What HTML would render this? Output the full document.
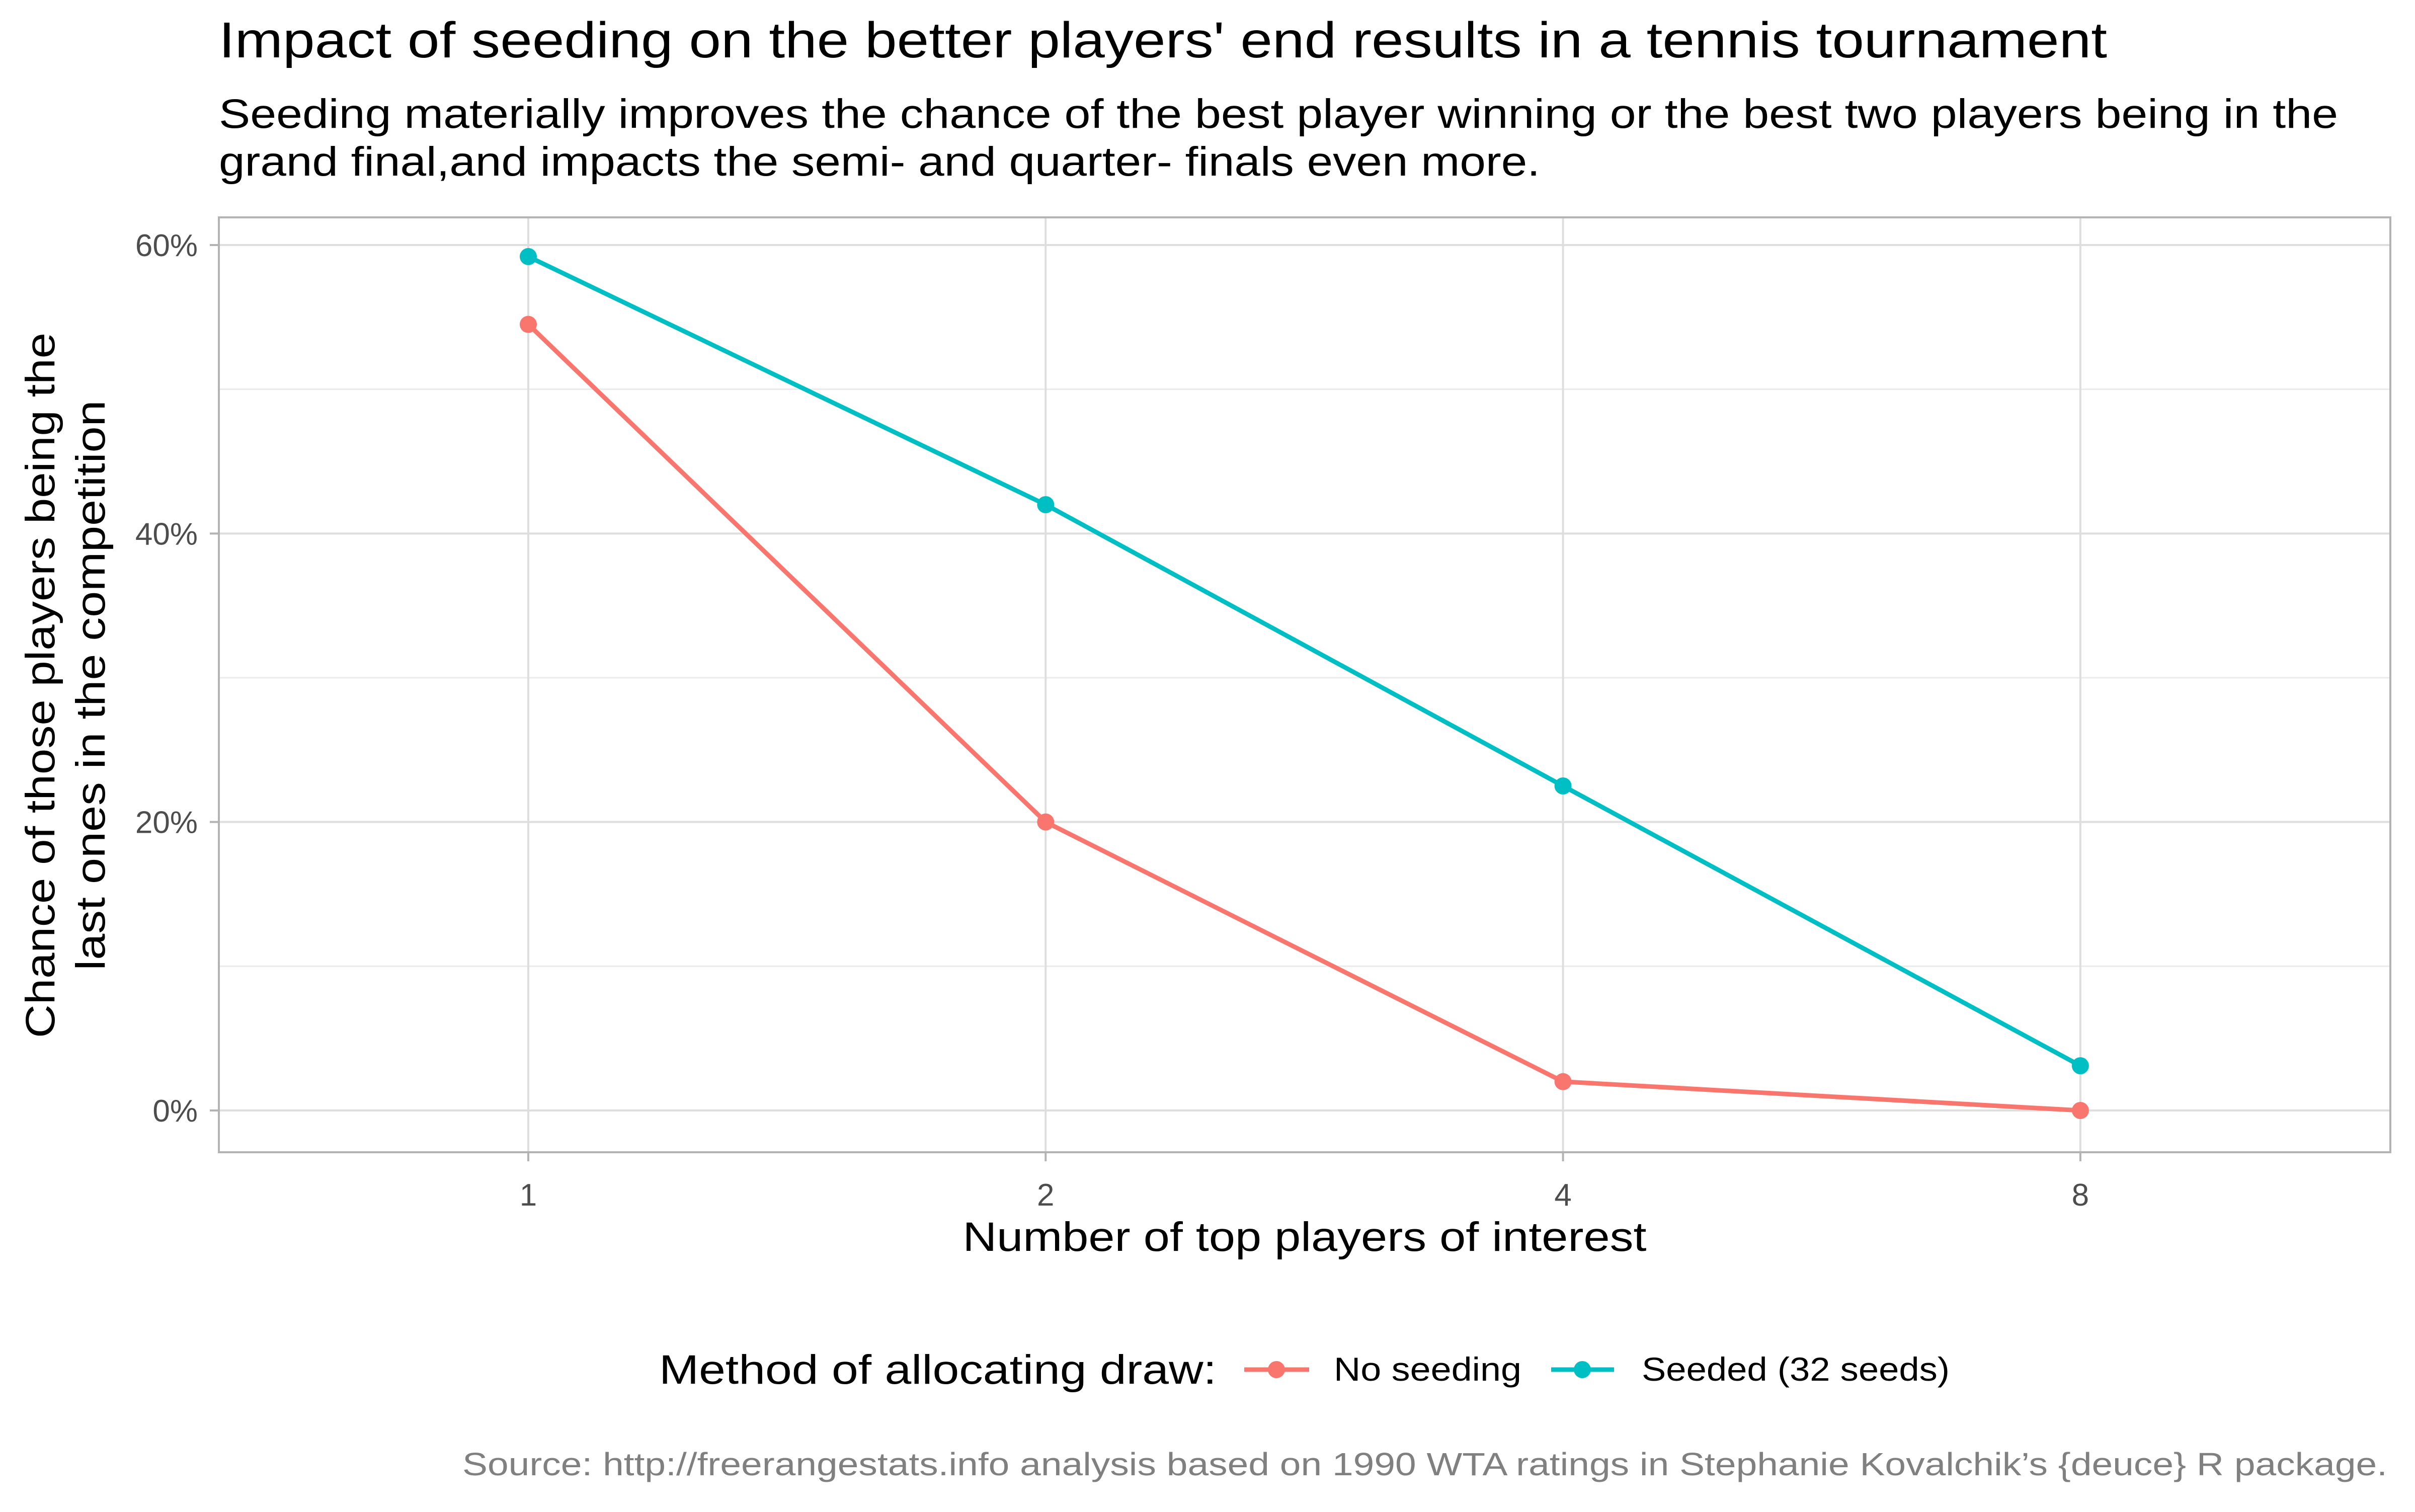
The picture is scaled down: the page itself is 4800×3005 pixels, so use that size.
<!DOCTYPE html>
<html><head><meta charset="utf-8"><style>
html,body{margin:0;padding:0;background:#fff;}
svg text{font-family:"Liberation Sans",sans-serif;}
</style></head><body>
<svg id="chart" width="4800" height="3000" viewBox="0 0 4800 3000" xmlns="http://www.w3.org/2000/svg">
<rect width="4800" height="3000" fill="#fff"/>
<text x="435" y="114" font-size="100" fill="#000" textLength="3753" lengthAdjust="spacingAndGlyphs">Impact of seeding on the better players' end results in a tennis tournament</text>
<text x="435" y="254" font-size="82" fill="#000" textLength="4212" lengthAdjust="spacingAndGlyphs">Seeding materially improves the chance of the best player winning or the best two players being in the</text>
<text x="435" y="349" font-size="82" fill="#000" textLength="2626" lengthAdjust="spacingAndGlyphs">grand final,and impacts the semi- and quarter- finals even more.</text>
<g id="grid"></g>
<g id="series"></g>
<rect x="435" y="432" width="4316" height="1858" fill="none" stroke="#b3b3b3" stroke-width="4"/>
<g id="ticks"></g>
<text x="2593" y="2486" font-size="82" text-anchor="middle" fill="#000" textLength="1359" lengthAdjust="spacingAndGlyphs">Number of top players of interest</text>
<g transform="translate(0,1362) rotate(-90)">
<text x="0" y="108" font-size="82" text-anchor="middle" fill="#000" textLength="1402" lengthAdjust="spacingAndGlyphs">Chance of those players being the</text>
<text x="0" y="208" font-size="82" text-anchor="middle" fill="#000" textLength="1133" lengthAdjust="spacingAndGlyphs">last ones in the competition</text>
</g>
<g>
<text x="1310" y="2750" font-size="82" fill="#000" textLength="1108" lengthAdjust="spacingAndGlyphs">Method of allocating draw:</text>
<g>
<line x1="2473" y1="2722" x2="2602" y2="2722" stroke="#F8766D" stroke-width="9"/>
<circle cx="2537" cy="2722" r="17" fill="#F8766D"/>
<text x="2651" y="2744" font-size="66" fill="#000" textLength="373" lengthAdjust="spacingAndGlyphs">No seeding</text>
</g>
<g>
<line x1="3083" y1="2722" x2="3208" y2="2722" stroke="#00BFC4" stroke-width="9"/>
<circle cx="3145" cy="2722" r="17" fill="#00BFC4"/>
<text x="3263" y="2744" font-size="66" fill="#000" textLength="612" lengthAdjust="spacingAndGlyphs">Seeded (32 seeds)</text>
</g>
</g>
<text x="4745" y="2932" font-size="64" text-anchor="end" fill="#808080" textLength="3826" lengthAdjust="spacingAndGlyphs">Source: http://freerangestats.info analysis based on 1990 WTA ratings in Stephanie Kovalchik’s {deuce} R package.</text>
</svg>
<script>
const categories = ["1","2","4","8"];
const noSeeding = [54.5, 20.0, 2.0, 0.0];
const seeded = [59.2, 42.0, 22.5, 3.1];
const yTicks = [0, 20, 40, 60];
const yMinor = [10, 30, 50];
const NS = "http://www.w3.org/2000/svg";
const xPos = i => 1050 + i * 1028.3;
const yPos = v => 2207 - v * (2207 - 487) / 60;
const grid = document.getElementById('grid');
const ticks = document.getElementById('ticks');
const series = document.getElementById('series');
function mk(tag, attrs, parent){const e=document.createElementNS(NS,tag);for(const k in attrs)e.setAttribute(k,attrs[k]);parent.appendChild(e);return e;}
yMinor.forEach(v=>{
  const l=mk('line',{x1:435,x2:4751,y1:yPos(v),y2:yPos(v),stroke:'#ebebeb','stroke-width':3},grid);
  
  
});
yTicks.forEach(v=>{
  const l=mk('line',{x1:435,x2:4751,y1:yPos(v),y2:yPos(v),stroke:'#dedede','stroke-width':4},grid);
  
  
  const t=mk('line',{x1:417,x2:435,y1:yPos(v),y2:yPos(v),stroke:'#b3b3b3','stroke-width':4},ticks);
  
  
  const tx=mk('text',{x:393,y:yPos(v)+22,'font-size':62,'text-anchor':'end',fill:'#4d4d4d'},ticks);
  tx.textContent=v+'%';
  
  
});
categories.forEach((c,i)=>{
  const l=mk('line',{x1:xPos(i),x2:xPos(i),y1:432,y2:2290,stroke:'#dedede','stroke-width':4},grid);
  
  
  const t=mk('line',{x1:xPos(i),x2:xPos(i),y1:2290,y2:2308,stroke:'#b3b3b3','stroke-width':4},ticks);
  
  
  const tx=mk('text',{x:xPos(i),y:2396,'font-size':62,'text-anchor':'middle',fill:'#4d4d4d'},ticks);
  tx.textContent=c;
  
  
});
function drawSeries(vals,color,name){
  const pts=vals.map((v,i)=>xPos(i)+','+yPos(v)).join(' ');
  const pl=mk('polyline',{points:pts,fill:'none',stroke:color,'stroke-width':9,'stroke-linejoin':'round'},series);
  
  
  vals.forEach((v,i)=>{
    const c=mk('circle',{cx:xPos(i),cy:yPos(v),r:17,fill:color},series);
    
    
  });
}
drawSeries(noSeeding,'#F8766D','no-seeding');
drawSeries(seeded,'#00BFC4','seeded');
</script>
</body></html>
